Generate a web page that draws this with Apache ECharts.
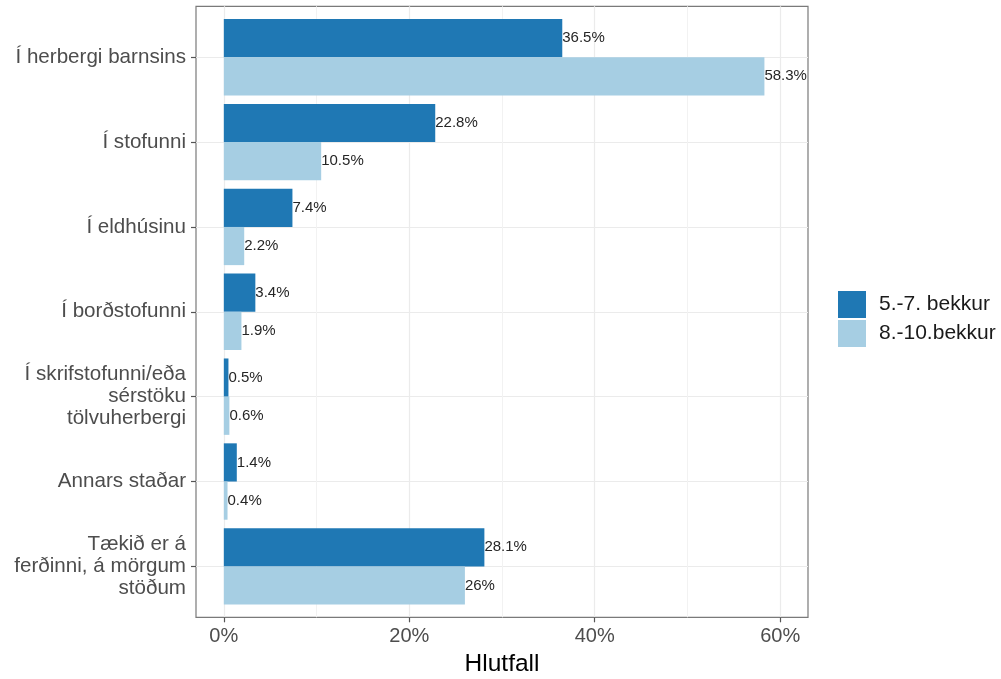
<!DOCTYPE html>
<html>
<head>
<meta charset="utf-8">
<script src="https://cdn.jsdelivr.net/npm/echarts@6/dist/echarts.min.js"></script>
<style>
html,body{margin:0;padding:0;background:#fff;}
#chart{width:1001px;height:679px;}
</style>
</head>
<body>
<div id="chart"></div>
<script>
// ---- data ----
const categories = [
  'Í herbergi barnsins',
  'Í stofunni',
  'Í eldhúsinu',
  'Í borðstofunni',
  'Í skrifstofunni/eða\nsérstöku\ntölvuherbergi',
  'Annars staðar',
  'Tækið er á\nferðinni, á mörgum\nstöðum'
];
const seriesNames = ['5.-7. bekkur', '8.-10.bekkur'];
const grade5to7 = [36.5, 22.8, 7.4, 3.4, 0.5, 1.4, 28.1];
const grade8to10 = [58.3, 10.5, 2.2, 1.9, 0.6, 0.4, 26];
const xTickValues = [0, 20, 40, 60];
const xMinorValues = [10, 30, 50];
const xTitle = 'Hlutfall';

// ---- layout ----
const FONT = 'Liberation Sans, Arial, sans-serif';
const panel = { left: 196, top: 6.3, width: 612, height: 611 };
const nCat = categories.length;
const unit = panel.height / (nCat + 0.2);           // discrete expansion 0.6 each side
const inner = { left: panel.left, width: panel.width, top: panel.top + 0.1 * unit, height: nCat * unit };
const X_MIN = -3, X_MAX = 63;
const catPositions = categories.map((c, i) => i + 1);

const chart = echarts.init(document.getElementById('chart'), null, { renderer: 'canvas' });
chart.setOption({
  backgroundColor: '#ffffff',
  animation: false,
  textStyle: { fontFamily: FONT },
  grid: [
    { left: panel.left, top: panel.top, width: panel.width, height: panel.height,
      outerBoundsMode: 'none',
      show: true, borderColor: '#7a7a7a', borderWidth: 1.2, backgroundColor: 'transparent', containLabel: false },
    { left: inner.left, top: inner.top, width: inner.width, height: inner.height,
      outerBoundsMode: 'none', containLabel: false }
  ],
  xAxis: [
    { type: 'value', gridIndex: 0, min: X_MIN, max: X_MAX, position: 'bottom',
      name: xTitle, nameLocation: 'middle', nameGap: 34,
      nameTextStyle: { fontSize: 24.5, color: '#000', fontFamily: FONT },
      axisLine: { show: false, onZero: false },
      axisTick: { show: true, length: 5, lineStyle: { color: '#555', width: 1.2 }, customValues: xTickValues },
      axisLabel: { show: true, fontSize: 20, color: '#4d4d4d', margin: 9, customValues: xTickValues,
        formatter: v => v + '%' },
      splitLine: { show: true, lineStyle: { color: '#ebebeb', width: 1.2 } }
    },
    { type: 'value', gridIndex: 0, min: X_MIN, max: X_MAX, position: 'bottom',
      axisLine: { show: false, onZero: false },
      axisTick: { show: false, customValues: xMinorValues },
      axisLabel: { show: false, customValues: xMinorValues },
      splitLine: { show: true, lineStyle: { color: '#f2f2f2', width: 1 } }
    },
    { type: 'value', gridIndex: 1, min: X_MIN, max: X_MAX, show: false,
      splitLine: { show: false } }
  ],
  yAxis: [
    { type: 'value', gridIndex: 0, min: 0.4, max: nCat + 0.6, inverse: true, position: 'left',
      axisLine: { show: false, onZero: false },
      axisTick: { show: true, length: 5, lineStyle: { color: '#555', width: 1.2 }, customValues: catPositions },
      axisLabel: { show: true, fontSize: 20.6, color: '#4d4d4d', margin: 10, lineHeight: 22, align: 'right',
        customValues: catPositions, formatter: v => categories[Math.round(v) - 1] || '' },
      splitLine: { show: true, lineStyle: { color: '#ebebeb', width: 1.2 } }
    },
    { type: 'category', gridIndex: 1, data: categories, inverse: true, show: false }
  ],
  legend: {
    orient: 'vertical', left: 838, top: 291, padding: 0,
    data: seriesNames,
    icon: 'rect', itemWidth: 28, itemHeight: 27, itemGap: 2,
    textStyle: { fontSize: 21, color: '#1a1a1a', fontFamily: FONT, padding: [0, 0, 0, 8] }
  },
  series: [
    { name: seriesNames[0], type: 'bar', xAxisIndex: 2, yAxisIndex: 1, data: grade5to7,
      barWidth: 0.45 * unit, barGap: '0%', itemStyle: { color: '#1f78b4' },
      label: { show: true, position: 'right', distance: 0, fontSize: 15, color: '#262626', fontFamily: FONT,
        formatter: p => p.value + '%' } },
    { name: seriesNames[1], type: 'bar', xAxisIndex: 2, yAxisIndex: 1, data: grade8to10,
      barWidth: 0.45 * unit, barGap: '0%', itemStyle: { color: '#a6cee3' },
      label: { show: true, position: 'right', distance: 0, fontSize: 15, color: '#262626', fontFamily: FONT,
        formatter: p => p.value + '%' } }
  ]
});
</script>
</body>
</html>
